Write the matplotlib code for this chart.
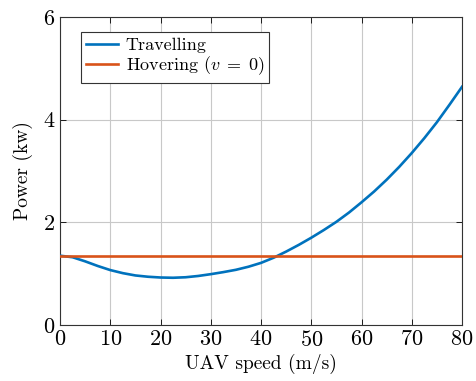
import matplotlib
matplotlib.use('Agg')
from matplotlib import pyplot as plt

# Values
speed = [0, 2.5, 5, 7.5, 10, 12.5, 15, 17.5, 20, 22.5, 25, 27.5, 30, 32.5, 35, 37.5,
         40, 42.5, 45, 47.5, 50, 52.5, 55, 57.5, 60, 62.5, 65, 67.5, 70, 72.5, 75, 77.5, 80]
travelling = [1.35, 1.32, 1.24, 1.15, 1.07, 1.01, 0.965, 0.94, 0.925, 0.92, 0.93, 0.955,
              0.99, 1.03, 1.075, 1.135, 1.21, 1.31, 1.43, 1.56, 1.70, 1.85, 2.01, 2.19,
              2.39, 2.60, 2.83, 3.08, 3.35, 3.64, 3.95, 4.29, 4.64]
hover_power = 1.35
x_ticks = [0, 10, 20, 30, 40, 50, 60, 70, 80]
y_ticks = [0, 2, 4, 6]

plt.rcParams['font.family'] = 'cmr10'
plt.rcParams['mathtext.fontset'] = 'cm'
plt.rcParams['axes.formatter.use_mathtext'] = True

fig = plt.figure(figsize=(4.77, 3.81), dpi=100)
ax = fig.add_axes([0.1258, 0.147, 0.8428, 0.8084])

ax.plot(speed, travelling, color='#0072BD', lw=1.9, label='Travelling', zorder=3)
ax.plot([speed[0], speed[-1]], [hover_power, hover_power], color='#D95319', lw=1.9,
        label='Hovering ($v\\;=\\;0$)', zorder=3)

ax.set_xlim(0, 80)
ax.set_ylim(0, 6)
ax.set_xticks(x_ticks)
ax.set_yticks(y_ticks)
ax.tick_params(direction='in', top=True, right=True, labelsize=16, length=4, width=0.6)
ax.grid(color='#c8c8c8', lw=0.8)
ax.set_axisbelow(True)
for s in ax.spines.values():
    s.set_linewidth(0.8)
    s.set_color('#333333')

ax.set_xlabel('UAV speed (m/s)', fontsize=14, labelpad=3)
ax.set_ylabel('Power (kw)', fontsize=14, labelpad=7)

leg = ax.legend(loc='upper left', bbox_to_anchor=(0.051, 0.952), borderaxespad=0,
                fontsize=13, fancybox=False, edgecolor='#333333', framealpha=1,
                handlelength=1.8, handletextpad=0.4, borderpad=0.3, labelspacing=0.1)
leg.get_frame().set_linewidth(0.8)

fig.savefig('out.png', dpi=100)
